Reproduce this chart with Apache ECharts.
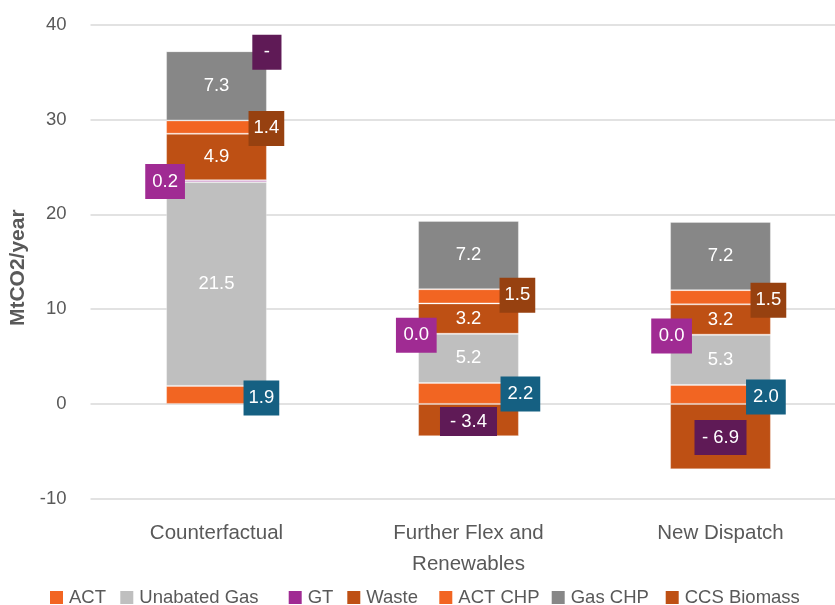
<!DOCTYPE html>
<html><head><meta charset="utf-8">
<script src="https://cdn.jsdelivr.net/npm/echarts@6/dist/echarts.min.js"></script>
<style>html,body{margin:0;padding:0;background:#fff}#c{width:835px;height:605px}</style>
</head><body><div id="c"></div>
<script>
// ---- data ----
const categories = ['Counterfactual', 'Further Flex and\nRenewables', 'New Dispatch'];
const seriesNames = ['ACT', 'Unabated Gas', 'GT', 'Waste', 'ACT CHP', 'Gas CHP', 'CCS Biomass'];
const act = [1.9, 2.2, 2.0];
const unabatedGas = [21.5, 5.2, 5.3];
const gt = [0.2, 0.0, 0.0];
const waste = [4.9, 3.2, 3.2];
const actChp = [1.4, 1.5, 1.5];
const gasChp = [7.3, 7.2, 7.2];
const ccsBiomass = [0, -3.4, -6.9];
const yTicks = [-10, 0, 10, 20, 30, 40];

// ---- styles ----
const FONT = '"Liberation Sans", Arial, sans-serif';
const TXT = '#595959';
const barColors = ['#F26522', '#BFBFBF', '#A02B93', '#BE5014', '#F26522', '#878787', '#BE5014'];
const boxColors = { ACT: '#156082', 'ACT CHP': '#974110', GT: '#A02B93', 'CCS Biomass': '#5F1A56' };
// callout placement per category: [anchorX, offset, padding]
const calloutStyle = {
  'ACT': [['100%', [-5.5, 3], [8, 5]], ['100%', [1.5, 0.5], [8, 7]], ['100%', [-5, 2.5], [8, 7]]],
  'ACT CHP': [['100%', [-0.5, 1.3], [8, 5]], ['100%', [-1.5, -1], [8, 5]], ['100%', [-2.5, 3], [8, 5]]],
  'GT': [['0%', [-1, 0.5], [8, 7]], ['0%', [-1.3, 1.6], [8, 7.5]], ['0%', [2, 1.2], [8, 7.5]]],
  'CCS Biomass': [['100%', [-0.5, 1], [8, 11.5]], ['50%', [0, 1.4], [5, 10]], ['50%', [0, 1], [8, 7.5]]]
};
const fmt1 = p => Number(p.value).toFixed(1);
const fmtCcs = p => p.value === 0 ? '-' : (p.value < 0 ? '- ' + Math.abs(p.value).toFixed(1) : Number(p.value).toFixed(1));

const valuesByName = {
  'ACT': act, 'Unabated Gas': unabatedGas, 'GT': gt, 'Waste': waste,
  'ACT CHP': actChp, 'Gas CHP': gasChp, 'CCS Biomass': ccsBiomass
};

function buildSeries(name, idx) {
  const vals = valuesByName[name];
  const base = {
    name: name, type: 'bar', stack: 'total', barWidth: '40%',
    itemStyle: { color: barColors[idx], borderColor: 'rgba(255,255,255,0.3)', borderWidth: 1 },
    emphasis: { disabled: true }
  };
  if (calloutStyle[name]) {
    base.label = {
      show: true, color: '#FFFFFF', fontSize: 18.5, fontFamily: FONT, lineHeight: 19,
      backgroundColor: boxColors[name], align: 'center', verticalAlign: 'middle',
      formatter: name === 'CCS Biomass' ? fmtCcs : fmt1
    };
    base.data = vals.map((v, i) => {
      const s = calloutStyle[name][i];
      return { value: v, label: { position: [s[0], '50%'], offset: s[1], padding: s[2] } };
    });
  } else {
    base.label = { show: true, position: 'inside', color: '#FFFFFF', fontSize: 18.5, fontFamily: FONT, formatter: fmt1 };
    base.data = vals.slice();
  }
  return base;
}

const legendLefts = [50, 120.3, 288.7, 347.3, 439.3, 551.7, 665.7];

const option = {
  animation: false,
  backgroundColor: '#FFFFFF',
  grid: { left: 90.5, top: 24.7, width: 756, height: 474, containLabel: false, outerBoundsMode: 'none' },
  xAxis: {
    type: 'category', data: categories,
    axisLine: { show: false }, axisTick: { show: false },
    axisLabel: { interval: 0, fontSize: 20.5, color: TXT, fontFamily: FONT, lineHeight: 31, margin: 19 }
  },
  yAxis: {
    type: 'value', min: yTicks[0], max: yTicks[yTicks.length - 1], interval: yTicks[1] - yTicks[0],
    name: 'MtCO2/year', nameLocation: 'middle', nameGap: 59, nameRotate: 90,
    nameTextStyle: { fontSize: 21, fontWeight: 'bold', color: TXT, fontFamily: FONT, padding: [0, 12, 0, 0] },
    axisLine: { show: false }, axisTick: { show: false },
    axisLabel: { fontSize: 18.5, color: TXT, fontFamily: FONT, margin: 24 },
    splitLine: { lineStyle: { color: '#D9D9D9', width: 1.5 } }
  },
  legend: seriesNames.map((n, i) => ({
    data: [n], left: legendLefts[i], top: 588, padding: 0, itemGap: 0,
    itemWidth: 13, itemHeight: 13, icon: 'rect',
    itemStyle: { borderWidth: 0 },
    textStyle: { fontSize: 18.5, color: TXT, fontFamily: FONT, padding: [0, 0, 0, 1] },
    selectedMode: false
  })),
  series: seriesNames.map(buildSeries)
};

echarts.init(document.getElementById('c'), null, { renderer: 'canvas' }).setOption(option);
</script>
</body></html>
